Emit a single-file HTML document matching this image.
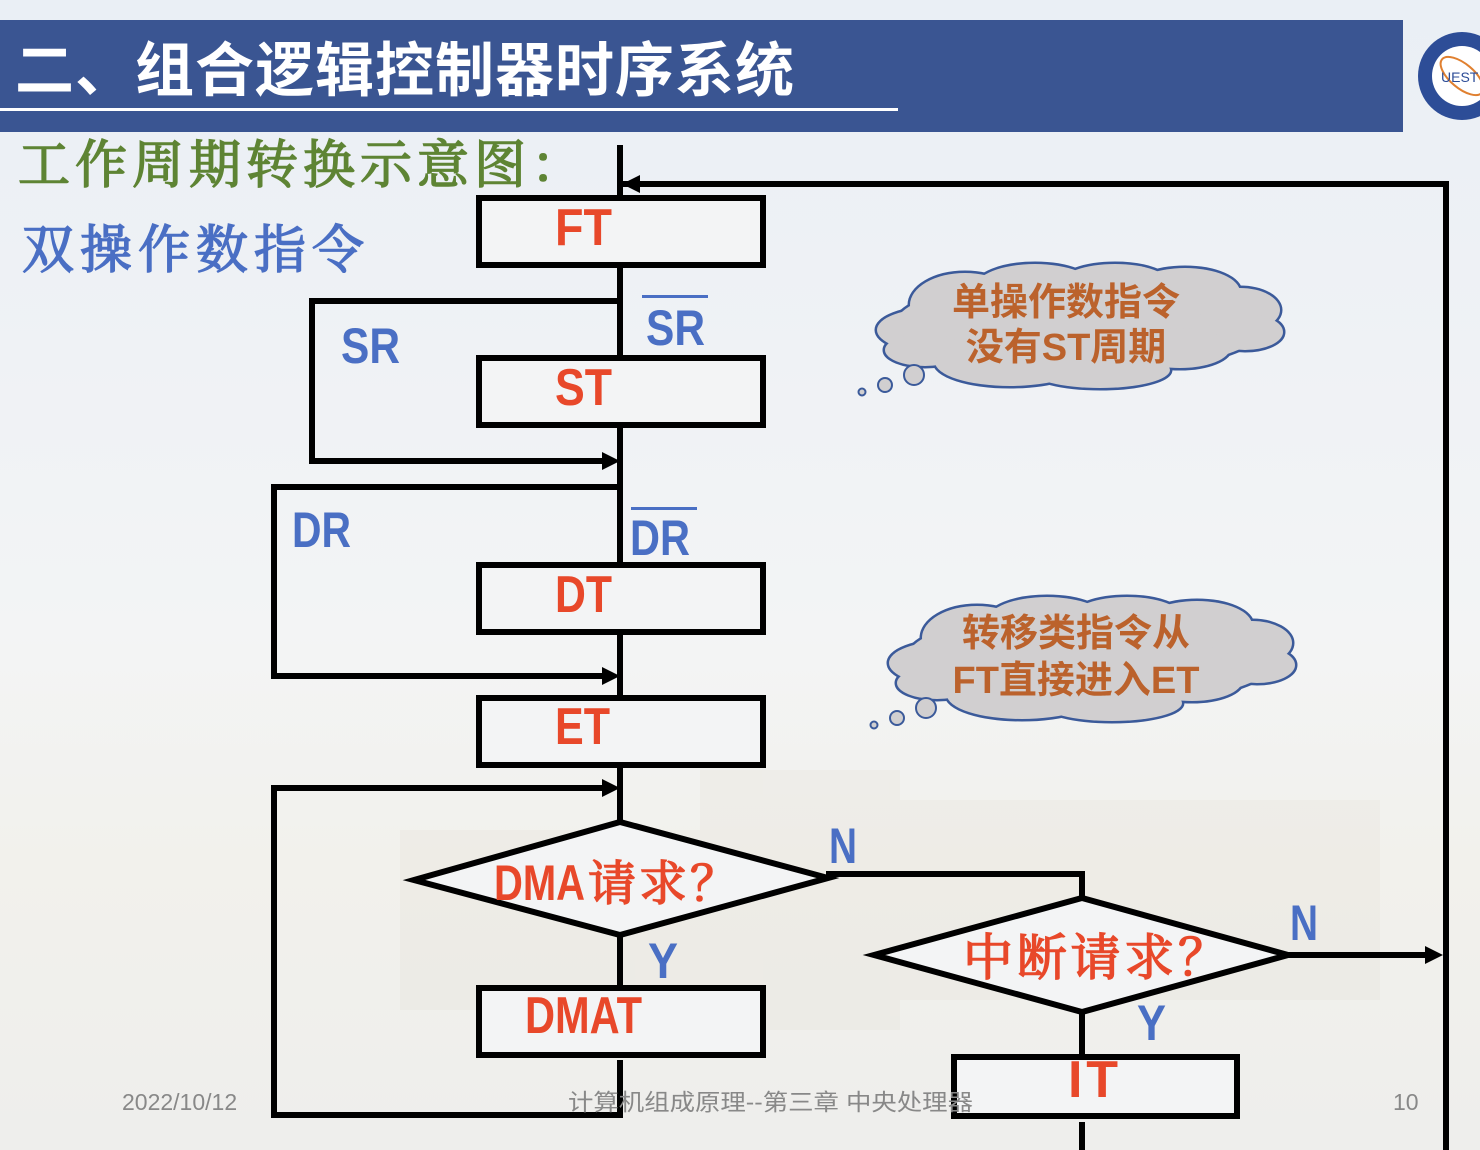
<!DOCTYPE html>
<html><head><meta charset="utf-8"><style>
html,body{margin:0;padding:0;width:1480px;height:1150px;overflow:hidden;background:#f1f2f4;}
svg{display:block}
.cn{font-family:"Liberation Sans","Noto Sans CJK SC",sans-serif;}
.box{font-family:"Liberation Sans","Noto Sans CJK SC",sans-serif;font-weight:bold;fill:#e8482a;}
.lb{font-family:"Liberation Sans",sans-serif;font-weight:bold;fill:#4a6fc4;}
</style></head><body>
<svg width="1480" height="1150" viewBox="0 0 1480 1150" xmlns="http://www.w3.org/2000/svg">
<defs>
<linearGradient id="bg" x1="0" y1="0" x2="0" y2="1">
<stop offset="0" stop-color="#eaeff5"/><stop offset="0.55" stop-color="#f3f4f5"/><stop offset="0.75" stop-color="#f2f1ec"/><stop offset="1" stop-color="#eeeeec"/>
</linearGradient>
<g id="cloud">
<ellipse cx="1080" cy="325" rx="185" ry="48"/>
<ellipse cx="965" cy="305" rx="55" ry="32"/>
<ellipse cx="1035" cy="288" rx="60" ry="24"/>
<ellipse cx="1115" cy="284" rx="55" ry="20"/>
<ellipse cx="1185" cy="292" rx="55" ry="24"/>
<ellipse cx="1240" cy="310" rx="40" ry="22"/>
<ellipse cx="1245" cy="332" rx="38" ry="18"/>
<ellipse cx="935" cy="330" rx="58" ry="22"/>
<ellipse cx="925" cy="350" rx="40" ry="16"/>
<ellipse cx="1010" cy="362" rx="75" ry="24"/>
<ellipse cx="1100" cy="370" rx="70" ry="18"/>
<ellipse cx="1180" cy="348" rx="50" ry="20"/>
</g>
</defs>
<rect width="1480" height="1150" fill="url(#bg)"/>
<g opacity="0.12" fill="#d8cfbe">
<rect x="400" y="830" width="300" height="180"/>
<rect x="700" y="770" width="200" height="260"/>
<rect x="900" y="800" width="480" height="200"/>
</g>
<rect x="0" y="20" width="1403" height="112" fill="#3a5592"/>
<rect x="0" y="108" width="898" height="3" fill="#fff"/>
<text x="15" y="91" class="cn" font-size="59" font-weight="bold" fill="#fff" letter-spacing="1">二、组合逻辑控制器时序系统</text>
<circle cx="1462" cy="76" r="44" fill="#2d4d97"/>
<circle cx="1462" cy="76" r="30" fill="#fff"/>
<ellipse cx="1462" cy="76" rx="26" ry="12" fill="none" stroke="#e08030" stroke-width="2" transform="rotate(40 1462 76)"/>
<text x="1441" y="82" font-family="Liberation Sans" font-size="14" fill="#2d4d97">UEST</text>
<text x="18" y="183" font-family="'Noto Serif CJK SC',serif" font-size="52" fill="#5e8434" stroke="#5e8434" stroke-width="1.5" letter-spacing="5">工作周期转换示意图：</text>
<text x="22" y="268" font-family="'Noto Serif CJK SC',serif" font-size="52" fill="#4a6fc4" stroke="#4a6fc4" stroke-width="1.5" letter-spacing="6">双操作数指令</text>
<g stroke="#000" stroke-width="6" fill="none">
<line x1="620" y1="145" x2="620" y2="1055"/>
<line x1="620" y1="1060" x2="620" y2="1118"/>
<polyline points="620,184 1446,184 1446,1150"/>
<polyline points="620,301 312,301 312,461 608,461"/>
<polyline points="620,487 274,487 274,676 608,676"/>
<polyline points="608,788 274,788 274,1115 620,1115"/>
<polyline points="826,874 1082,874 1082,898"/>
<line x1="1082" y1="1012" x2="1082" y2="1057"/>
<line x1="1082" y1="1122" x2="1082" y2="1150"/>
<line x1="1285" y1="955" x2="1432" y2="955"/>
</g>
<g fill="#000">
<polygon points="622,184 640,175 640,193"/>
<polygon points="620,461 602,452 602,470"/>
<polygon points="620,676 602,667 602,685"/>
<polygon points="620,788 602,779 602,797"/>
<polygon points="1443,955 1425,946 1425,964"/>
</g>
<g stroke="#000" stroke-width="6" fill="#f3f4f5">
<rect x="479" y="198" width="284" height="67"/>
<rect x="479" y="358" width="284" height="67"/>
<rect x="479" y="565" width="284" height="67"/>
<rect x="479" y="698" width="284" height="67"/>
<rect x="479" y="988" width="284" height="67"/>
<rect x="954" y="1057" width="283" height="59"/>
<polygon points="414,880 620,822 828,878 620,935"/>
<polygon points="874,955 1082,898 1288,955 1082,1012"/>
</g>
<text x="555" y="245" class="box" font-size="52" textLength="57" lengthAdjust="spacingAndGlyphs">FT</text>
<text x="555" y="405" class="box" font-size="52" textLength="57" lengthAdjust="spacingAndGlyphs">ST</text>
<text x="555" y="612" class="box" font-size="52" textLength="57" lengthAdjust="spacingAndGlyphs">DT</text>
<text x="555" y="744" class="box" font-size="52" textLength="55" lengthAdjust="spacingAndGlyphs">ET</text>
<text x="525" y="1033" class="box" font-size="52" textLength="117" lengthAdjust="spacingAndGlyphs">DMAT</text>
<text x="1068" y="1097" class="box" font-size="52" textLength="50" lengthAdjust="spacing">IT</text>
<text x="494" y="900" class="box" font-size="50" textLength="91" lengthAdjust="spacingAndGlyphs">DMA</text>
<text x="588" y="900" font-family="'Noto Serif CJK SC',serif" font-size="48" fill="#e8482a" stroke="#e8482a" stroke-width="1.5" textLength="150" lengthAdjust="spacing">请求？</text>
<text x="963" y="975" font-family="'Noto Serif CJK SC',serif" font-size="50" fill="#e8482a" stroke="#e8482a" stroke-width="1.5" textLength="265" lengthAdjust="spacing">中断请求？</text>
<text x="341" y="363" class="lb" font-size="50" textLength="59" lengthAdjust="spacingAndGlyphs">SR</text>
<text x="646" y="345" class="lb" font-size="50" textLength="59" lengthAdjust="spacingAndGlyphs">SR</text>
<rect x="642" y="295" width="66" height="3" fill="#4a6fc4"/>
<text x="292" y="547" class="lb" font-size="50" textLength="59" lengthAdjust="spacingAndGlyphs">DR</text>
<text x="630" y="555" class="lb" font-size="50" textLength="60" lengthAdjust="spacingAndGlyphs">DR</text>
<rect x="631" y="507" width="66" height="3" fill="#4a6fc4"/>
<text x="829" y="863" class="lb" font-size="50" textLength="28" lengthAdjust="spacingAndGlyphs">N</text>
<text x="648" y="978" class="lb" font-size="50" textLength="30" lengthAdjust="spacingAndGlyphs">Y</text>
<text x="1290" y="940" class="lb" font-size="50" textLength="28" lengthAdjust="spacingAndGlyphs">N</text>
<text x="1137" y="1040" class="lb" font-size="50" textLength="29" lengthAdjust="spacingAndGlyphs">Y</text>
<g>
<g fill="#d1cfd0" stroke="#3b5a9a" stroke-width="5"><use href="#cloud"/></g>
<g fill="#d1cfd0"><use href="#cloud"/></g>
<g fill="#d1cfd0" stroke="#3b5a9a" stroke-width="2"><circle cx="914" cy="375" r="10"/><circle cx="885" cy="385" r="7"/><circle cx="862" cy="392" r="3.5"/></g>
<text x="1066" y="315" text-anchor="middle" class="cn" font-size="38" font-weight="bold" fill="#bb622c">单操作数指令</text>
<text x="1066" y="360" text-anchor="middle" class="cn" font-size="38" font-weight="bold" fill="#bb622c">没有ST周期</text>
</g>
<g>
<g transform="translate(12,333)">
<g fill="#d1cfd0" stroke="#3b5a9a" stroke-width="5"><use href="#cloud"/></g>
<g fill="#d1cfd0"><use href="#cloud"/></g>
<g fill="#d1cfd0" stroke="#3b5a9a" stroke-width="2"><circle cx="914" cy="375" r="10"/><circle cx="885" cy="385" r="7"/><circle cx="862" cy="392" r="3.5"/></g>
</g>
<text x="1076" y="646" text-anchor="middle" class="cn" font-size="38" font-weight="bold" fill="#bb622c">转移类指令从</text>
<text x="1076" y="693" text-anchor="middle" class="cn" font-size="38" font-weight="bold" fill="#bb622c">FT直接进入ET</text>
</g>
<text x="122" y="1110" class="cn" font-size="23" fill="#888">2022/10/12</text>
<text x="568" y="1110" class="cn" font-size="23" fill="#888" textLength="405" lengthAdjust="spacingAndGlyphs">计算机组成原理--第三章 中央处理器</text>
<text x="1393" y="1110" class="cn" font-size="23" fill="#888">10</text>
</svg>
</body></html>
